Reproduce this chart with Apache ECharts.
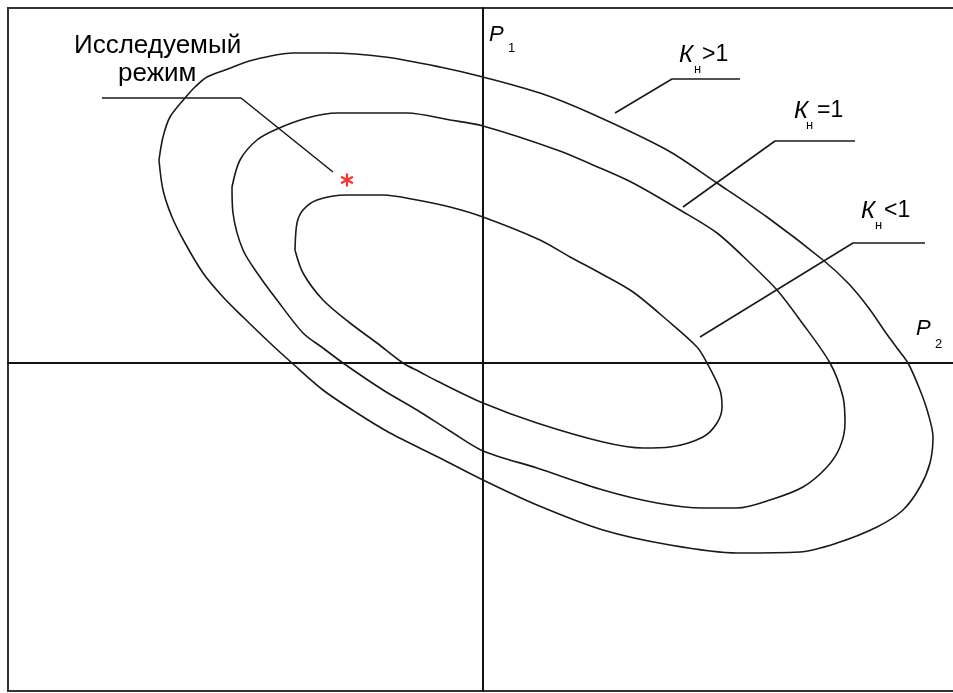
<!DOCTYPE html>
<html>
<head>
<meta charset="utf-8">
<script src="https://cdn.jsdelivr.net/npm/echarts@6/dist/echarts.min.js"></script>
<style>
  html, body { margin: 0; padding: 0; background: #fff; }
  #main { width: 953px; height: 693px; }
</style>
</head>
<body>
<div id="main"></div>
<script>
// контуры, точки (ось P2 вправо, ось P1 вверх)
var outerK = [
  [-324, 203], [-320, 226], [-313, 246], [-298, 265], [-288, 276], [-276, 286],
  [-258, 293], [-230, 303], [-190, 310], [-153, 310], [-98, 306], [-43, 296],
  [0, 286], [57, 270], [107, 250], [184, 213], [234, 180], [284, 146],
  [340, 103], [365, 80], [385, 56], [403, 30], [414, 15], [425, 0],
  [437, -27], [445, -50], [450, -74], [447, -100], [437, -124], [420, -147],
  [394, -164], [354, -180], [317, -189], [254, -190], [187, -182], [120, -167],
  [54, -142], [0, -117], [-43, -95], [-93, -70], [-126, -50], [-160, -27],
  [-191, 0], [-213, 20], [-240, 46], [-260, 66], [-280, 90], [-298, 120],
  [-311, 146], [-320, 173], [-324, 203]
];
var middleK = [
  [-251, 176], [-243, 203], [-226, 223], [-206, 234], [-176, 245], [-146, 250],
  [-76, 250], [-33, 243], [0, 237], [74, 213], [117, 195], [150, 180],
  [197, 153], [234, 130], [267, 100], [294, 73], [317, 43], [347, 0],
  [360, -34], [362, -60], [357, -84], [344, -104], [320, -124], [287, -137],
  [254, -145], [220, -145], [174, -140], [120, -127], [54, -105], [0, -88],
  [-33, -68], [-66, -47], [-100, -27], [-140, 0], [-160, 15], [-180, 30],
  [-206, 63], [-223, 86], [-240, 113], [-250, 150], [-251, 176]
];
var innerK = [
  [-188, 113], [-186, 140], [-180, 153], [-166, 163], [-136, 168], [-100, 168],
  [-66, 163], [-33, 156], [0, 146], [57, 123], [87, 106], [117, 90],
  [150, 71], [184, 43], [214, 16], [224, 0], [237, -27], [239, -44],
  [234, -60], [220, -74], [187, -84], [160, -85], [120, -79], [54, -60],
  [0, -40], [-46, -18], [-63, -9], [-80, 0], [-106, 20], [-133, 40],
  [-160, 63], [-180, 90], [-188, 113]
];
var regimePoint = [[-136, 183]];

// выноски
var leaderRegime = [[-381, 265], [-242, 265], [-150, 191]];
var leaderGt = [[257, 284], [189, 284], [132, 250]];
var leaderEq = [[372, 222], [292, 222], [200, 156]];
var leaderLt = [[442, 120], [370, 120], [217, 26]];

var chart = echarts.init(document.getElementById('main'));

var font = '"Liberation Sans", Arial, sans-serif';
var starPath = 'path://M-1,-6L1,-6L1,6L-1,6Z' +
  'M4.7,3.87L-5.7,-2.13L-4.7,-3.87L5.7,2.13Z' +
  'M5.7,-2.13L-4.7,3.87L-5.7,2.13L4.7,-3.87Z';

function txt(x, y, s, size, italic) {
  return {
    type: 'text', left: x, top: y - size / 2,
    style: {
      text: s, fill: '#000',
      font: (italic ? 'italic ' : '') + size + 'px ' + font
    }
  };
}

function contour(data) {
  return {
    type: 'line', data: data, smooth: 0.3, symbol: 'none',
    lineStyle: { color: '#1a1a1a', width: 1.6 }, silent: true
  };
}
function leader(data) {
  return {
    type: 'line', data: data, symbol: 'none',
    lineStyle: { color: '#1a1a1a', width: 1.6 }, silent: true
  };
}

var option = {
  animation: false,
  grid: {
    left: 8, top: 8, width: 950, height: 683,
    outerBoundsMode: 'none',
    show: true, borderColor: '#333', borderWidth: 2
  },
  xAxis: {
    type: 'value', min: -475, max: 475,
    axisLine: { onZero: true, lineStyle: { color: '#111', width: 2 } },
    axisTick: { show: false }, axisLabel: { show: false }, splitLine: { show: false }
  },
  yAxis: {
    type: 'value', min: -328, max: 355,
    axisLine: { onZero: true, lineStyle: { color: '#111', width: 2 } },
    axisTick: { show: false }, axisLabel: { show: false }, splitLine: { show: false }
  },
  series: [
    contour(outerK),
    contour(middleK),
    contour(innerK),
    leader(leaderRegime),
    leader(leaderGt),
    leader(leaderEq),
    leader(leaderLt),
    {
      type: 'scatter', data: regimePoint, symbol: starPath, symbolSize: 13,
      itemStyle: { color: '#ff0000' }, silent: true
    }
  ],
  graphic: [
    txt(74, 46, 'Исследуемый', 26),
    txt(118, 74, 'режим', 26),
    txt(489, 35, 'P', 22, true),
    txt(508, 48, '1', 13),
    txt(916, 329, 'P', 22, true),
    txt(935, 344, '2', 13),
    txt(679, 55, 'К', 24, true),
    txt(694, 69, 'н', 13),
    txt(702, 55, '>1', 23),
    txt(794, 111, 'К', 24, true),
    txt(806, 125, 'н', 13),
    txt(817, 111, '=1', 23),
    txt(861, 211, 'К', 24, true),
    txt(875, 225, 'н', 13),
    txt(884, 211, '<1', 23)
  ]
};

chart.setOption(option);
</script>
</body>
</html>
